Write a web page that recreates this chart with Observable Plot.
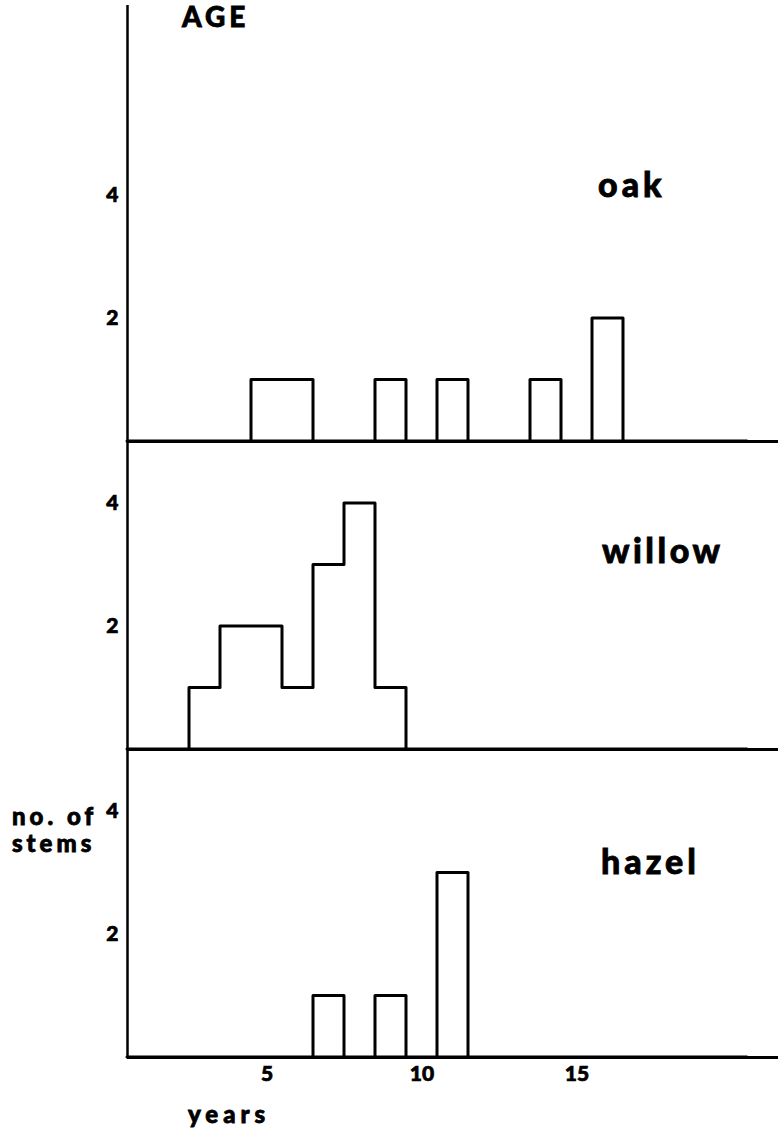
<!DOCTYPE html>
<html><head><meta charset="utf-8">
<script src="https://cdn.jsdelivr.net/npm/d3@7"></script>
<script src="https://cdn.jsdelivr.net/npm/@observablehq/plot@0.6"></script>
<style>
body{margin:0;background:#fff;}
#chart{position:relative;width:778px;height:1133px;overflow:hidden;font-family:Lato,"DejaVu Sans",sans-serif;font-weight:900;color:#000;background:#fff;}
.lbl{position:absolute;white-space:nowrap;line-height:1;-webkit-text-stroke:0.8px #000;}
#chart svg{position:absolute;left:0;}
#chart svg text{stroke:#000;stroke-width:0.7px;}
</style></head><body><div id="chart"></div>
<script>
// Data (counts of stems per age in years)
const years  = [1,2,3,4,5,6,7,8,9,10,11,12,13,14,15,16,17,18,19,20];
const oak    = [0,0,0,0,1,1,0,0,1,0,1,0,0,1,0,2,0,0,0,0];
const willow = [0,0,1,2,2,1,3,4,1,0,0,0,0,0,0,0,0,0,0,0];
const hazel  = [0,0,0,0,0,0,1,0,1,0,3,0,0,0,0,0,0,0,0,0];
const species = ["oak","willow","hazel"];
const xTicks = [5,10,15];
const yTicks = [2,4];
const title = "AGE";
const yTitle = ["no. of","stems"];
const xTitle = "years";

const font = "Lato, 'DejaVu Sans', sans-serif";
const chart = document.getElementById("chart");

function panel(counts, name, opts) {
  const pts = years.map((yr, i) => ({x: yr - 0.5, y: counts[i]}));
  pts.push({x: years[years.length - 1] + 0.5, y: 0});
  const svg = Plot.plot({
    width: 778, height: opts.height,
    marginLeft: 127, marginRight: 0, marginTop: opts.marginTop, marginBottom: opts.marginBottom,
    x: {domain: [0.5, 21.5], ticks: xTicks, tickSize: 0, tickPadding: 9, label: null,
        axis: opts.xAxis ? "bottom" : null, tickFormat: d => String(d)},
    y: {domain: [0, opts.yMax], ticks: yTicks, tickSize: 0, tickPadding: 9, label: null,
        tickFormat: d => String(d)},
    style: {fontFamily: font, fontSize: "21px", fontWeight: 900, overflow: "visible", background: "transparent", color: "#000"},
    marks: [
      Plot.areaY(pts, {x: "x", y: "y", curve: "step-after", fill: "white", stroke: "black", strokeWidth: 3}),
      Plot.ruleY([0], {stroke: "black", strokeWidth: 3}),
      Plot.ruleX([0.5], {stroke: "black", strokeWidth: 2.5})
    ]
  });
  svg.style.top = opts.top + "px";
  chart.appendChild(svg);
}

panel(oak, species[0], {top: 0, height: 441, marginTop: 5, marginBottom: 0, yMax: 436 / 61.5});
panel(willow, species[1], {top: 441, height: 308, marginTop: 0, marginBottom: 0, yMax: 308 / 61.5});
panel(hazel, species[2], {top: 749, height: 368, marginTop: 0, marginBottom: 60, yMax: 308 / 61.5, xAxis: true});

function label(text, left, baseline, size, spacing) {
  const d = document.createElement("div");
  d.className = "lbl";
  d.textContent = text;
  d.style.left = left + "px";
  d.style.top = (baseline - 0.887 * size) + "px";
  d.style.fontSize = size + "px";
  d.style.letterSpacing = spacing + "px";
  chart.appendChild(d);
}
label(title, 182, 27, 28, 4);
label(species[0], 598, 197, 34, 4);
label(species[1], 602, 563, 34, 3.5);
label(species[2], 601, 874, 34, 4);
label(yTitle[0], 12, 825, 24, 4);
label(yTitle[1], 12, 852, 24, 4);
label(xTitle, 188, 1123, 24, 5);
</script></body></html>
